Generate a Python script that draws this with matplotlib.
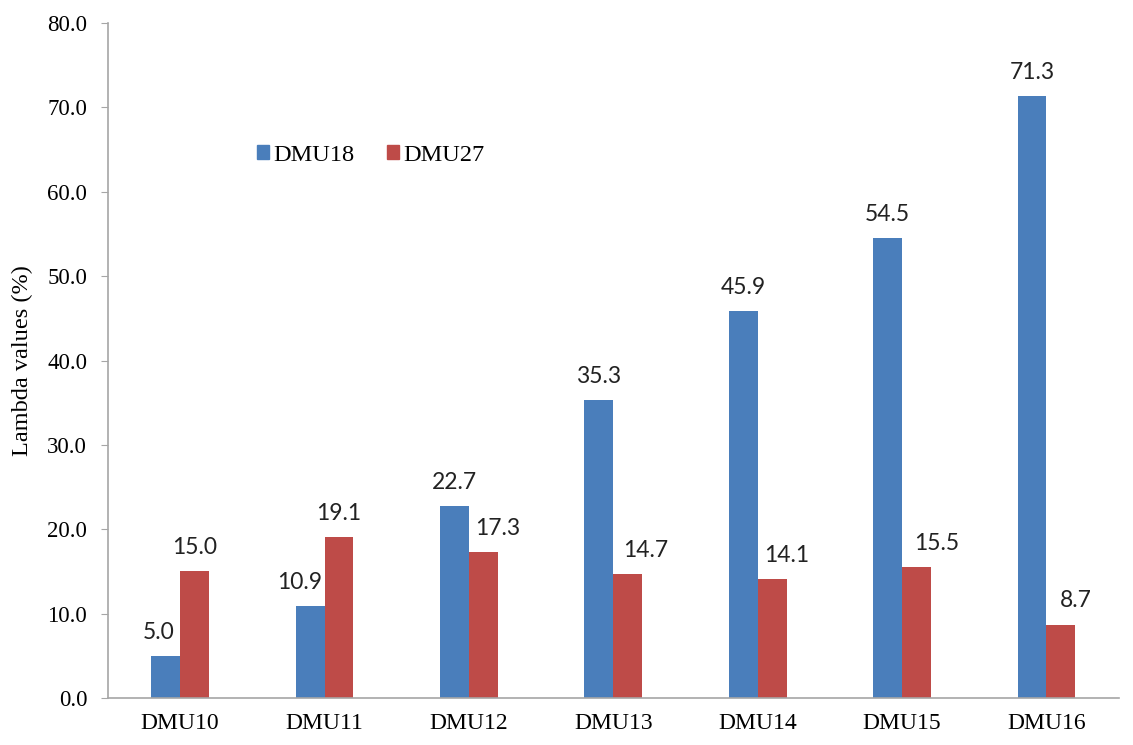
import numpy as np
import matplotlib.pyplot as plt
from matplotlib.patches import Patch

# dane z wykresu
dmus = ["DMU10", "DMU11", "DMU12", "DMU13", "DMU14", "DMU15", "DMU16"]
dmu18 = [5.0, 10.9, 22.7, 35.3, 45.9, 54.5, 71.3]
dmu27 = [15.0, 19.1, 17.3, 14.7, 14.1, 15.5, 8.7]

blue = "#4a7ebb"
red = "#be4b48"
grey = "#a6a6a6"
serif = "Liberation Serif"

# przesunięcia etykiet w poziomie (punkty), tak jak Excel je rozsunął
dx18 = [-5.4, -7.2, 0, 0, 0, 0, 0]
dx27 = [0, 0, 10, 13, 10.4, 14.4, 10.8]

fig = plt.figure(figsize=(11.33, 7.45), dpi=100)
ax = fig.add_axes([0.0953, 0.0631, 0.892, 0.906])

x = np.arange(len(dmus))
w = 0.2
b1 = ax.bar(x - w / 2, dmu18, w, color=blue, label="DMU18")
b2 = ax.bar(x + w / 2, dmu27, w, color=red, label="DMU27")

# etykiety nad słupkami
for bars, vals, dxs in ((b1, dmu18, dx18), (b2, dmu27, dx27)):
    for r, v, dx in zip(bars, vals, dxs):
        ax.annotate(f"{v:.1f}", (r.get_x() + r.get_width() / 2, v),
                    xytext=(dx, 17), textcoords="offset points",
                    ha="center", va="center", fontsize=16.5,
                    family="Lato", color="#222222")

ax.set_xlim(-0.5, len(dmus) - 0.5)
ax.set_ylim(0, 80)
ax.set_yticks(np.arange(0, 81, 10))
ax.set_yticklabels([f"{t:.1f}" for t in np.arange(0, 81, 10)],
                   family=serif, fontsize=16.5)
ax.set_xticks(x)
ax.set_xticklabels(dmus, family=serif, fontsize=17)
ax.tick_params(axis="y", length=5, color=grey, pad=10)
ax.tick_params(axis="x", length=0, pad=11)

for s in ("top", "right"):
    ax.spines[s].set_visible(False)
for s in ("left", "bottom"):
    ax.spines[s].set_color(grey)
    ax.spines[s].set_linewidth(1.2)

ax.set_ylabel("Lambda values (%)", family=serif, fontsize=17.5)
ax.yaxis.set_label_coords(-0.074, 0.5)

handles = [Patch(color=blue), Patch(color=red)]
ax.legend(handles, ["DMU18", "DMU27"], loc="center left",
          bbox_to_anchor=(0.1475, 0.804), borderaxespad=0, borderpad=0,
          ncol=2, frameon=False,
          prop={"family": serif, "size": 17.6},
          handlelength=0.5, handleheight=0.5, handletextpad=0.15,
          columnspacing=1.35)

fig.savefig("out.png", dpi=100)
